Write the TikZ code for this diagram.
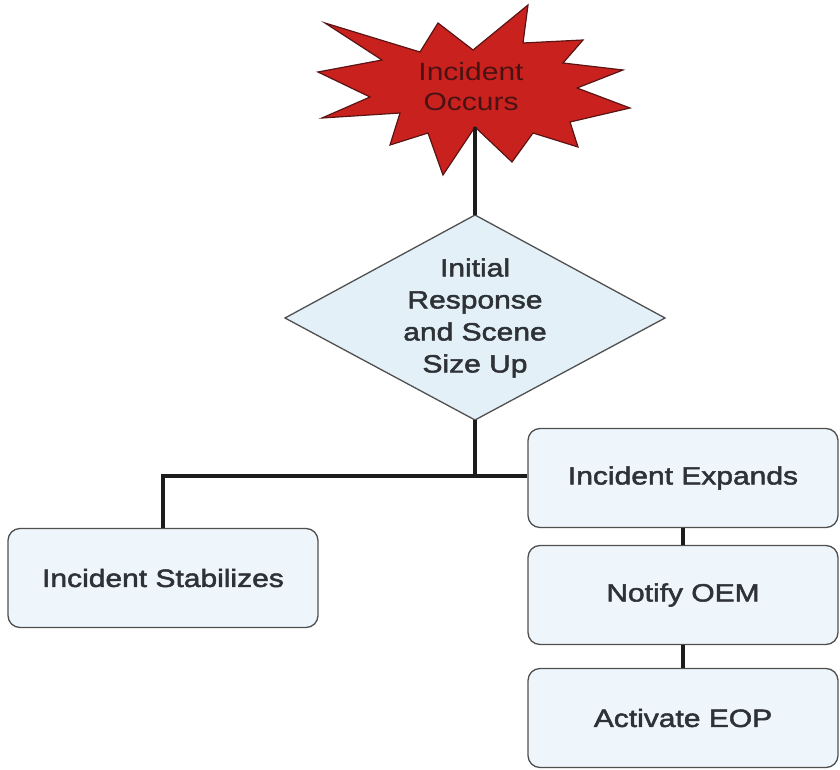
\documentclass[tikz,border=0pt]{standalone}
\usepackage{fontspec}
\setmainfont{Liberation Sans}[FakeStretch=1.2]
\newfontfamily\heavyfont{Liberation Sans}[FakeStretch=1.2, FakeBold=2]
\definecolor{boxfill}{HTML}{EEF6FB}
\definecolor{diafill}{HTML}{E3F0F8}
\definecolor{boxline}{HTML}{505050}
\definecolor{starred}{HTML}{C9221E}
\definecolor{starline}{HTML}{5A1414}
\definecolor{txt}{HTML}{2E3236}
\definecolor{startxt}{HTML}{4A1212}
\definecolor{conn}{HTML}{1C1C1C}
\tikzset{
  stepbox/.style={draw=boxline, line width=1.3pt, fill=boxfill, rounded corners=12pt,
    minimum width=310pt, minimum height=99pt, inner sep=0pt, text=txt,
    font=\heavyfont\fontsize{25}{32}\selectfont},
  label/.style={align=center, inner sep=0pt, font=\heavyfont\fontsize{25}{32}\selectfont},
  link/.style={draw=conn, line width=3.5pt},
}
\begin{document}
\begin{tikzpicture}[x=1pt,y=-1pt]
\useasboundingbox (0,0) rectangle (840,770);
% starburst
\path[fill=starred, draw=starline, line width=1.2pt, line join=miter]
  (325,23) -- (420,52) -- (438,23) -- (473,50) -- (528,5) -- (523,43) -- (583,40) -- (563,63)
  -- (623,70) -- (577,88) -- (630,108) -- (570,122) -- (578,147) -- (533,133) -- (512,162)
  -- (475,127) -- (443,175) -- (428,133) -- (390,145) -- (400,113) -- (322,118) -- (370,97)
  -- (318,72) -- (382,60) -- cycle;
\node[label, text=startxt, font=\fontsize{25}{30}\selectfont] (star) at (471,87) {Incident\\Occurs};
\coordinate (starbot) at (475,127);
% diamond
\path[fill=diafill, draw=boxline, line width=1.3pt]
  (475,215) -- (665,318) -- (475,420) -- (285,318) -- cycle;
\coordinate (diatop) at (475,215);
\coordinate (diabot) at (475,420);
\node[label, text=txt] (dia) at (475,318) {Initial\\Response\\and Scene\\Size Up};
% boxes
\node[stepbox] (expands) at (683,478) {Incident Expands};
\node[stepbox] (stab) at (163,578) {Incident Stabilizes};
\node[stepbox] (notify) at (683,595) {Notify OEM};
\node[stepbox] (eop) at (683,718) {Activate EOP};
\coordinate (junc) at (475,476);
% connectors
\draw[link] (starbot) -- (diatop);
\draw[link] (diabot) -- (junc) -- (expands.west |- junc);
\draw[link] (junc) -| (stab.north);
\draw[link] (expands.south) -- (notify.north);
\draw[link] (notify.south) -- (eop.north);
\end{tikzpicture}
\end{document}
